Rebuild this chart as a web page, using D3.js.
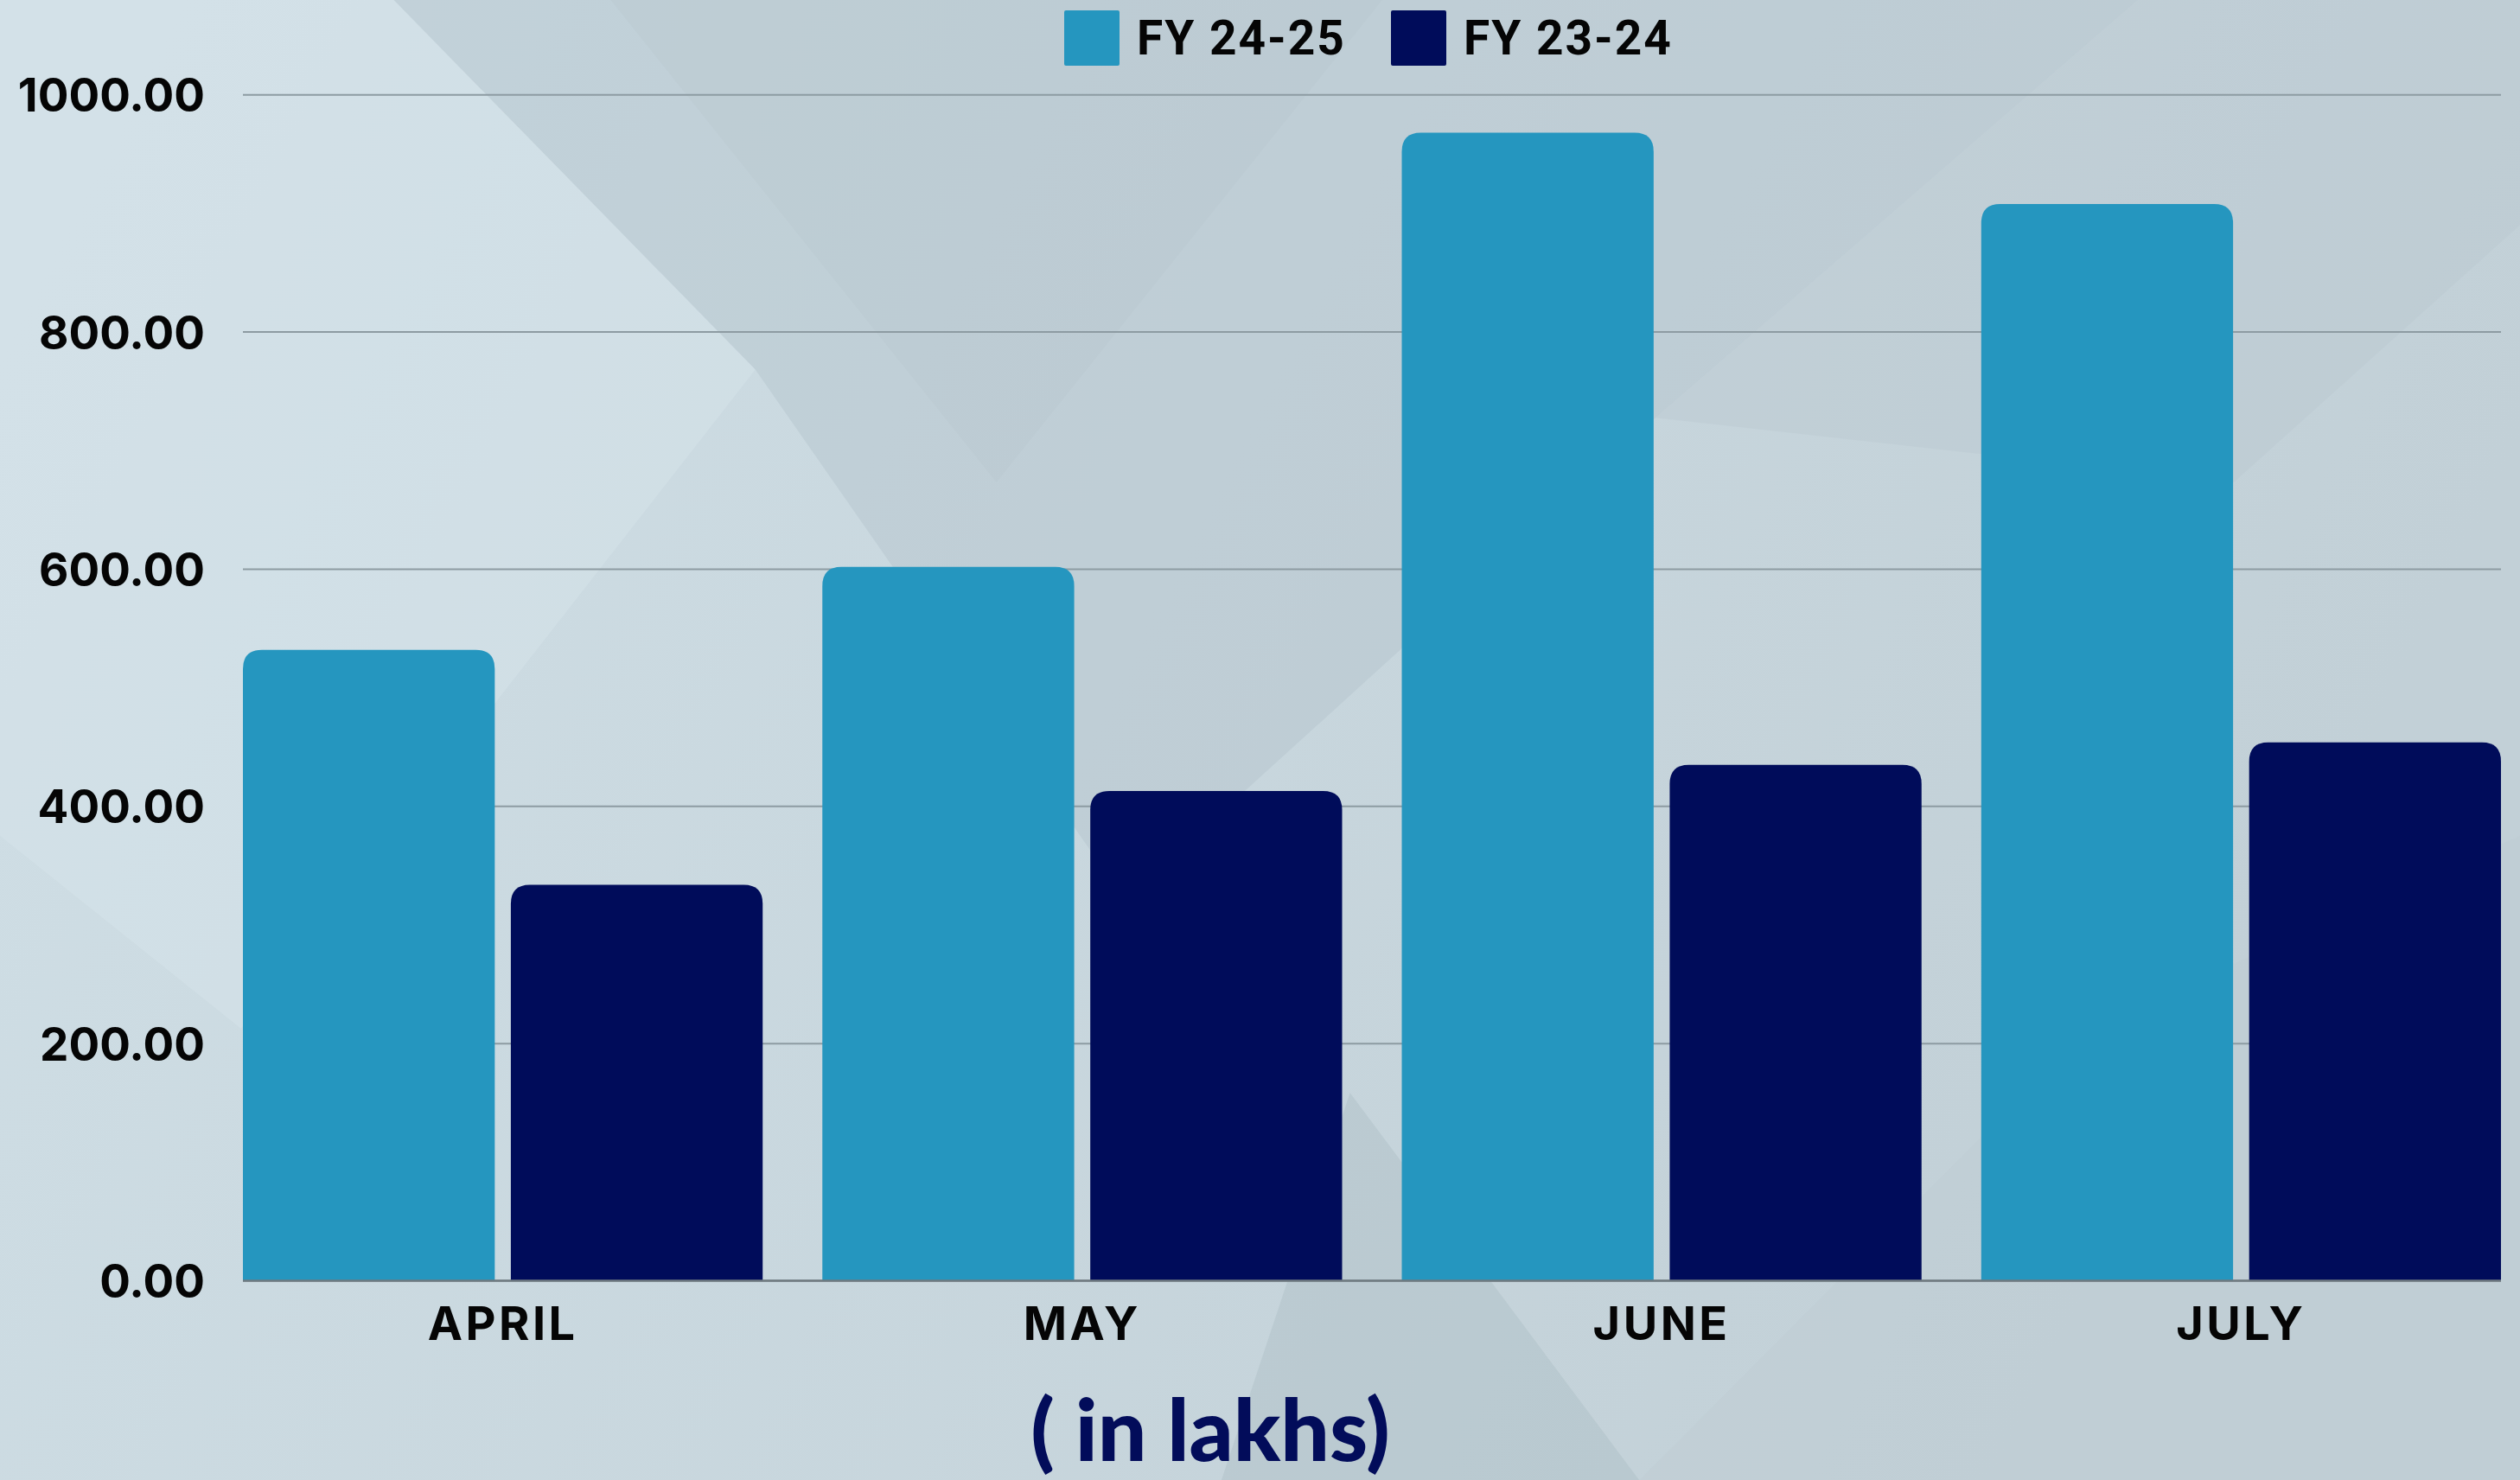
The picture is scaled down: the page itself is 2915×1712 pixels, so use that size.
<!DOCTYPE html>
<html>
<head>
<meta charset="utf-8">
<script src="https://cdn.jsdelivr.net/npm/d3@7"></script>
<style>
  html, body { margin: 0; padding: 0; background: #c9d8df; }
  svg { display: block; }
</style>
</head>
<body>
<script>
// data (in lakhs)
var months = ["APRIL", "MAY", "JUNE", "JULY"];
var seriesNames = ["FY 24-25", "FY 23-24"];
var fy2425 = [532, 602, 968, 908];
var fy2324 = [334, 413, 435, 454];
var yTicks = [0, 200, 400, 600, 800, 1000];
var colors = ["#2596bf", "#000c5a"];

var width = 2915;
var height = 1712;
var margin = { top: 110, left: 281, right: 22, bottom: 230 };

var svg = d3.select("body")
  .append("svg")
  .attr("width", width)
  .attr("height", height);

// background: soft diagonal shapes
var k = width / 1568;
var bg = svg.append("g");
var grad = svg.append("defs").append("linearGradient")
  .attr("id", "bgGrad").attr("x1", "0").attr("x2", "1").attr("y1", "0").attr("y2", "0.3");
grad.append("stop").attr("offset", "0").attr("stop-color", "#d0dfe6");
grad.append("stop").attr("offset", "1").attr("stop-color", "#c2d0d7");
bg.append("rect").attr("width", width).attr("height", height).attr("fill", "url(#bgGrad)");

var shapes = [
  { pts: [[245,0],[1330,0],[1030,260],[700,560],[470,230]], fill: "#b4c4cb", op: 0.45 },
  { pts: [[380,0],[860,0],[620,300]], fill: "#aebec5", op: 0.15 },
  { pts: [[1330,0],[1568,0],[1568,140],[1390,300],[1030,260]], fill: "#b7c6cd", op: 0.35 },
  { pts: [[760,921],[840,680],[1020,921]], fill: "#aebec5", op: 0.45 },
  { pts: [[1020,921],[1300,640],[1568,520],[1568,921]], fill: "#bccad1", op: 0.3 },
  { pts: [[0,0],[245,0],[470,230],[150,640],[0,520]], fill: "#d6e4ea", op: 0.45 }
];
bg.selectAll("polygon").data(shapes).join("polygon")
  .attr("points", function(d) { return d.pts.map(function(p) { return (p[0]*k) + "," + (p[1]*k); }).join(" "); })
  .attr("fill", function(d) { return d.fill; })
  .attr("opacity", function(d) { return d.op; });

var x0 = d3.scaleBand()
  .domain(months)
  .range([margin.left, width - margin.right])
  .paddingInner(0.103)
  .paddingOuter(0);

var x1 = d3.scaleBand()
  .domain(seriesNames)
  .range([0, x0.bandwidth()])
  .paddingInner(0.06);

var yScale = d3.scaleLinear()
  .domain([0, 1000])
  .range([1481.6, 109.7]);

var color = d3.scaleOrdinal().domain(seriesNames).range(colors);

// gridlines
svg.append("g")
  .selectAll("line")
  .data(yTicks)
  .join("line")
  .attr("x1", margin.left)
  .attr("x2", width - margin.right)
  .attr("y1", function(d) { return yScale(d); })
  .attr("y2", function(d) { return yScale(d); })
  .attr("stroke", "#8d9ba2")
  .attr("stroke-width", 2);

// y axis labels
var yAxis = svg.append("g")
  .attr("transform", "translate(" + (margin.left - 44) + ",0)")
  .call(d3.axisLeft(yScale).tickValues(yTicks).tickFormat(d3.format(".2f")).tickSize(0).tickPadding(0));
yAxis.select(".domain").remove();
yAxis.selectAll("text")
  .attr("font-family", "Inter, 'Open Sans', sans-serif")
  .attr("font-weight", 700)
  .attr("font-size", "53px")
  .attr("fill", "#050505")
  .attr("dy", "0.36em");

// rows for grouped bars
var rows = months.map(function(m, i) {
  return { month: m, values: [
    { key: seriesNames[0], value: fy2425[i] },
    { key: seriesNames[1], value: fy2324[i] }
  ] };
});

function topRounded(x, y, w, h, r) {
  r = Math.min(r, h, w / 2);
  return "M" + x + "," + (y + h) +
    "V" + (y + r) +
    "Q" + x + "," + y + " " + (x + r) + "," + y +
    "H" + (x + w - r) +
    "Q" + (x + w) + "," + y + " " + (x + w) + "," + (y + r) +
    "V" + (y + h) + "Z";
}

svg.append("g")
  .selectAll("g")
  .data(rows)
  .join("g")
  .attr("transform", function(d) { return "translate(" + x0(d.month) + ",0)"; })
  .selectAll("path")
  .data(function(d) { return d.values; })
  .join("path")
  .attr("d", function(d) {
    return topRounded(x1(d.key), yScale(d.value), x1.bandwidth(), yScale(0) - yScale(d.value), 22);
  })
  .attr("fill", function(d) { return color(d.key); });

// baseline
svg.append("line")
  .attr("x1", margin.left)
  .attr("x2", width - margin.right)
  .attr("y1", yScale(0))
  .attr("y2", yScale(0))
  .attr("stroke", "#6f7a80")
  .attr("stroke-width", 2.5);

// x axis labels
var xAxis = svg.append("g")
  .attr("transform", "translate(0," + yScale(0) + ")")
  .call(d3.axisBottom(x0).tickSize(0).tickPadding(0));
xAxis.select(".domain").remove();
xAxis.selectAll("text")
  .attr("font-family", "Inter, 'Open Sans', sans-serif")
  .attr("font-weight", 700)
  .attr("font-size", "54px")
  .attr("letter-spacing", "3.5px")
  .attr("fill", "#050505")
  .attr("dy", "0")
  .attr("y", 68);

// legend
var legend = svg.append("g");
var legendX = [1231, 1609];
seriesNames.forEach(function(s, i) {
  legend.append("rect")
    .attr("x", legendX[i])
    .attr("y", 12)
    .attr("width", 64)
    .attr("height", 64)
    .attr("rx", 2)
    .attr("fill", colors[i]);
  legend.append("text")
    .attr("x", legendX[i] + 84)
    .attr("y", 63)
    .attr("font-family", "Roboto, sans-serif")
    .attr("font-weight", 700)
    .attr("font-size", "55px")
    .attr("letter-spacing", "2px")
    .attr("fill", "#050505")
    .text(s);
});

// unit caption
svg.append("text")
  .attr("x", 1400)
  .attr("y", 1690)
  .attr("text-anchor", "middle")
  .attr("font-family", "Lato, sans-serif")
  .attr("font-weight", 900)
  .attr("font-size", "100px")
  .attr("fill", "#020c5a")
  .text("( in lakhs)");
</script>
</body>
</html>
